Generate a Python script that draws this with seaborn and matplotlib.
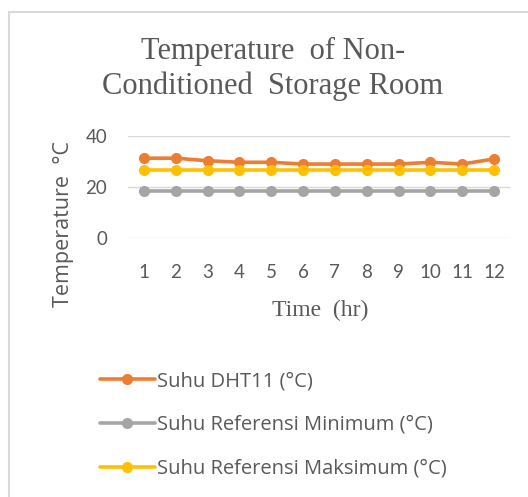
import matplotlib
matplotlib.use("Agg")
import matplotlib.pyplot as plt
import matplotlib.patches as mpatches
import seaborn as sns
import pandas as pd

hours = list(range(1, 13))
suhu_dht11 = [31.3, 31.3, 30.3, 29.7, 29.7, 29.0, 29.0, 29.0, 29.0, 29.7, 29.0, 31.0]
suhu_ref_min = [18.5] * 12
suhu_ref_max = [26.5] * 12
series_names = ["Suhu DHT11 (°C)", "Suhu Referensi Minimum (°C)", "Suhu Referensi Maksimum (°C)"]
series_colors = ["#ED7D31", "#A5A5A5", "#FFC000"]
y_ticks = [0, 20, 40]

df = pd.DataFrame({
    "hour": hours * 3,
    "temp": suhu_dht11 + suhu_ref_min + suhu_ref_max,
    "series": [series_names[0]] * 12 + [series_names[1]] * 12 + [series_names[2]] * 12,
})

sns.set_theme(style="white")
plt.rcParams["font.family"] = ["Lato", "DejaVu Sans"]

fig = plt.figure(figsize=(5.28, 4.97), dpi=100)
fig.patch.set_facecolor("white")

# light frame around the chart area
fig.patches.append(mpatches.Rectangle((8.5 / 528, -0.1), 1.2, 1 - 11.5 / 497 + 0.1,
                                      transform=fig.transFigure, fill=False,
                                      edgecolor="#D9D9D9", linewidth=1.5))

ax = fig.add_axes([128 / 528, 1 - 238 / 497, (510 - 128) / 528, (238 - 136) / 497])
sns.lineplot(data=df, x="hour", y="temp", hue="series", hue_order=series_names,
             palette=series_colors, marker="o", markersize=8, markeredgewidth=0,
             linewidth=2.6, ax=ax, legend=False)

ax.set_xlim(0.5, 12.5)
ax.set_ylim(0, 40)
ax.set_yticks(y_ticks)
ax.set_xticks(hours)
ax.set_xticklabels([str(h) for h in hours])
for s in ax.spines.values():
    s.set_visible(False)
ax.grid(False)
for y in y_ticks:
    ax.axhline(y, color="#D9D9D9", linewidth=1, zorder=0)
ax.tick_params(axis="both", length=0, labelsize=13.5, colors="#595959")
ax.tick_params(axis="y", pad=15)
ax.tick_params(axis="x", pad=19)
ax.set_xlabel("")
ax.set_ylabel("")

fig.text(320 / 528, 1 - 310 / 497, "Time  (hr)", ha="center", va="center",
         family=["Liberation Serif"], fontsize=17, color="#595959")
fig.text(63 / 528, 1 - 224 / 497, "Temperature  °C", ha="center", va="center",
         rotation=90, family=["Open Sans"], fontsize=15.5, color="#595959")
fig.text(273 / 528, 1 - 69 / 497, "Temperature  of Non-\nConditioned  Storage Room",
         ha="center", va="center", family=["Liberation Serif"], fontsize=22,
         color="#595959", linespacing=1.25)

handles = ax.get_lines()[:3]
leg = fig.legend(handles, series_names, loc="upper left",
                 bbox_to_anchor=(82 / 528, 1 - 353 / 497), frameon=False,
                 prop={"family": "Open Sans", "size": 14.5}, handlelength=2.7,
                 handletextpad=0.1, labelspacing=1.18, labelcolor="#595959")

fig.savefig("out.png", dpi=100)
